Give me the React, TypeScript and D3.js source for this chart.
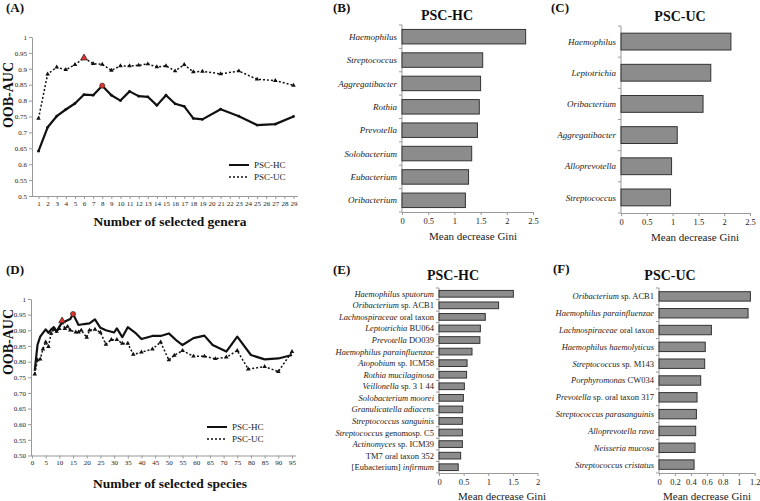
import React, { useEffect, useRef } from "react";
import * as d3 from "d3";

const FONT = "'Liberation Serif', 'Times New Roman', serif";

// (A) genera
const generaTicks = [1, 2, 3, 4, 5, 6, 7, 8, 9, 10, 11, 12, 13, 14, 15, 16, 17, 18, 19, 20, 21, 22, 23, 24, 25, 26, 27, 28, 29];
const generaX = [1, 2, 3, 4, 5, 6, 7, 8, 9, 10, 11, 12, 13, 14, 15, 16, 17, 18, 19, 21, 23, 25, 27, 29];
const generaHC = [0.641, 0.716, 0.751, 0.772, 0.791, 0.819, 0.817, 0.847, 0.817, 0.8, 0.829, 0.814, 0.812, 0.785, 0.817, 0.79, 0.782, 0.744, 0.741, 0.773, 0.751, 0.723, 0.726, 0.75];
const generaUC = [0.744, 0.883, 0.905, 0.897, 0.913, 0.934, 0.916, 0.914, 0.895, 0.909, 0.909, 0.911, 0.915, 0.906, 0.909, 0.893, 0.913, 0.89, 0.892, 0.884, 0.893, 0.867, 0.863, 0.848];

// (D) species
const speciesTicks = [0, 5, 10, 15, 20, 25, 30, 35, 40, 45, 50, 55, 60, 65, 70, 75, 80, 85, 90, 95];
const speciesHCx = [1, 2, 3, 5, 6, 7, 8, 9, 10, 11, 12, 14, 15, 17, 19, 21, 23, 25, 27, 30, 31, 33, 35, 38, 40, 44, 47, 50, 53, 55, 59, 63, 66, 71, 75, 80, 85, 90, 95];
const speciesHC = [0.77, 0.853, 0.88, 0.903, 0.892, 0.903, 0.91, 0.896, 0.912, 0.925, 0.928, 0.936, 0.952, 0.917, 0.92, 0.922, 0.935, 0.908, 0.9, 0.893, 0.906, 0.878, 0.91, 0.89, 0.872, 0.882, 0.882, 0.89, 0.866, 0.853, 0.875, 0.883, 0.853, 0.832, 0.88, 0.821, 0.807, 0.81, 0.821];
const speciesUCx = [1, 2, 3, 4, 5, 6, 7, 8, 9, 10, 11, 12, 13, 14, 16, 17, 18, 20, 21, 23, 25, 27, 29, 31, 33, 35, 37, 40, 44, 47, 50, 52, 55, 59, 63, 67, 71, 75, 79, 85, 90, 95];
const speciesUC = [0.76, 0.805, 0.808, 0.84, 0.862, 0.848, 0.89, 0.903, 0.896, 0.905, 0.93, 0.905, 0.912, 0.9, 0.894, 0.894, 0.9, 0.877, 0.9, 0.903, 0.893, 0.855, 0.87, 0.87, 0.858, 0.858, 0.823, 0.83, 0.84, 0.862, 0.805, 0.82, 0.835, 0.817, 0.817, 0.809, 0.814, 0.835, 0.776, 0.784, 0.768, 0.832];

// (B) genera PSC-HC
const bNames = ["*Haemophilus*", "*Streptococcus*", "*Aggregatibacter*", "*Rothia*", "*Prevotella*", "*Solobacterium*", "*Eubacterium*", "*Oribacterium*"];
const bValues = [2.36, 1.54, 1.5, 1.475, 1.44, 1.33, 1.27, 1.21];
// (C) genera PSC-UC
const cNames = ["*Haemophilus*", "*Leptotrichia*", "*Oribacterium*", "*Aggregatibacter*", "*Alloprevotella*", "*Streptococcus*"];
const cValues = [2.13, 1.74, 1.59, 1.09, 0.98, 0.96];
// (E) species PSC-HC
const eNames = [
  "*Haemophilus sputorum*", "*Oribacterium* sp. ACB1", "*Lachnospiraceae* oral taxon", "*Leptotrichia* BU064",
  "*Prevotella* DO039", "*Haemophilus parainfluenzae*", "*Atopobium* sp. ICM58", "*Rothia mucilaginosa*",
  "*Veillonella* sp. 3 1 44", "*Solobacterium moorei*", "*Granulicatella adiacens*", "*Streptococcus sanguinis*",
  "*Streptococcus* genomosp. C5", "*Actinomyces* sp. ICM39", "TM7 oral taxon 352", "[Eubacterium] *infirmum*",
];
const eValues = [1.51, 1.21, 0.94, 0.84, 0.83, 0.67, 0.57, 0.56, 0.515, 0.495, 0.48, 0.475, 0.475, 0.475, 0.44, 0.39];
// (F) species PSC-UC
const fNames = [
  "*Oribacterium* sp. ACB1", "*Haemophilus parainfluenzae*", "*Lachnospiraceae* oral taxon", "*Haemophilus haemolyticus*",
  "*Streptococcus* sp. M143", "*Porphyromonas* CW034", "*Prevotella* sp. oral taxon 317", "*Streptococcus parasanguinis*",
  "*Alloprevotella rava*", "*Neisseria mucosa*", "*Streptococcus cristatus*",
];
const fValues = [1.146, 1.117, 0.657, 0.58, 0.573, 0.523, 0.477, 0.469, 0.46, 0.452, 0.44];

const styleAxis = (g, size = 7) => {
  g.attr("font-family", FONT).attr("font-size", size);
  g.select(".domain").attr("stroke", "#999");
  g.selectAll(".tick line").attr("stroke", "#999");
  g.selectAll(".tick text").attr("fill", "#222").attr("font-size", size).attr("font-family", FONT);
};

const drawLinePanel = (svg, cfg) => {
  const { x, y, left, right, bottom, xTicks, yFmt, hcX, hc, ucX, uc, redHC, redUC, hcDots } = cfg;

  const gx = svg.append("g").attr("transform", `translate(0,${bottom})`)
    .call(d3.axisBottom(x).tickValues(xTicks).tickSize(3).tickPadding(2).tickSizeOuter(0));
  gx.select(".domain").attr("d", `M${left},0.5H${right}`);
  styleAxis(gx);

  const gy = svg.append("g").attr("transform", `translate(${left},0)`)
    .call(d3.axisLeft(y).ticks(10).tickFormat(yFmt).tickSize(3).tickPadding(2).tickSizeOuter(0));
  styleAxis(gy);

  const lineHC = d3.line<number>().x((d, i) => x(hcX[i])).y((d) => y(d));
  const lineUC = d3.line<number>().x((d, i) => x(ucX[i])).y((d) => y(d));

  svg.append("path").attr("d", lineUC(uc)).attr("fill", "none").attr("stroke", "#111")
    .attr("stroke-width", 1.5).attr("stroke-dasharray", "2,2");
  svg.append("path").attr("d", lineHC(hc)).attr("fill", "none").attr("stroke", "#111")
    .attr("stroke-width", 2.2).attr("stroke-linejoin", "round");

  const tri = d3.symbol().type(d3.symbolTriangle).size(9);
  svg.append("g").selectAll("path").data(uc).enter().append("path")
    .attr("d", tri).attr("fill", "#111")
    .attr("transform", (d, i) => `translate(${x(ucX[i])},${y(d)})`);

  if (hcDots) {
    svg.append("g").selectAll("circle").data(hc).enter().append("circle")
      .attr("cx", (d, i) => x(hcX[i])).attr("cy", (d) => y(d)).attr("r", 1.4).attr("fill", "#111");
  }

  // best models in red
  const bigTri = d3.symbol().type(d3.symbolTriangle).size(20);
  svg.append("path").attr("d", bigTri).attr("fill", "#e8312a").attr("stroke", "#222").attr("stroke-width", 0.7)
    .attr("transform", `translate(${x(ucX[redUC])},${y(uc[redUC])})`);
  svg.append("circle").attr("cx", x(hcX[redHC])).attr("cy", y(hc[redHC])).attr("r", 2.5)
    .attr("fill", "#e8312a").attr("stroke", "#222").attr("stroke-width", 0.7);

  // legend
  const { lx, ly } = cfg;
  [["PSC-HC", null, 2], ["PSC-UC", "2,2", 1.5]].forEach(([lab, dash, sw], i) => {
    svg.append("line").attr("x1", lx).attr("x2", lx + 20).attr("y1", ly + i * 12).attr("y2", ly + i * 12)
      .attr("stroke", "#111").attr("stroke-width", sw).attr("stroke-dasharray", dash);
    svg.append("text").attr("x", lx + 25).attr("y", ly + i * 12 + 3).attr("font-size", 9)
      .attr("font-family", FONT).attr("fill", "#222").text(lab);
  });

  svg.append("text").attr("transform", `translate(13,${cfg.yTitleY}) rotate(-90)`)
    .attr("text-anchor", "middle").attr("font-size", 14).attr("font-weight", "bold")
    .attr("font-family", FONT).attr("fill", "#111").text("OOB-AUC");
  svg.append("text").attr("x", 170).attr("y", cfg.xTitleY).attr("text-anchor", "middle")
    .attr("font-size", 13.5).attr("font-weight", "bold").attr("font-family", FONT).attr("fill", "#111")
    .text(cfg.xTitle);
};

const addLabel = (text, s) => {
  s.split("*").forEach((part, i) => {
    if (!part) return;
    text.append("tspan").attr("font-style", i % 2 === 1 ? "italic" : "normal").text(part);
  });
};

const drawBarPanel = (svg, cfg) => {
  const { names, values, x0, x1, max, ticks, top, bottom, pad, labelSize, title, titleX, titleY, glX, glY } = cfg;
  const y = d3.scaleBand().domain(names).range([top, bottom]).paddingInner(pad).paddingOuter(pad / 2);
  const x = d3.scaleLinear().domain([0, max]).range([x0, x1]);

  svg.append("line").attr("x1", x0).attr("x2", x0).attr("y1", top).attr("y2", bottom).attr("stroke", "#999");
  const step = (bottom - top) / names.length;
  names.concat([""]).forEach((n, i) => {
    svg.append("line").attr("x1", x0 - 3).attr("x2", x0).attr("y1", top + i * step).attr("y2", top + i * step)
      .attr("stroke", "#999");
  });

  const gx = svg.append("g").attr("transform", `translate(0,${bottom})`)
    .call(d3.axisBottom(x).tickValues(ticks).tickFormat(d3.format("~g")).tickSize(3).tickPadding(3).tickSizeOuter(0));
  styleAxis(gx, 8.5);

  svg.append("g").selectAll("rect").data(values).enter().append("rect")
    .attr("x", x0).attr("y", (d, i) => y(names[i])).attr("width", (d) => x(d) - x0)
    .attr("height", y.bandwidth()).attr("fill", "#8c8c8c").attr("stroke", "#333").attr("stroke-width", 1);

  names.forEach((n) => {
    const t = svg.append("text").attr("x", x0 - 5).attr("y", y(n) + y.bandwidth() / 2).attr("dy", "0.35em")
      .attr("text-anchor", "end").attr("font-size", labelSize).attr("font-family", FONT).attr("fill", "#222");
    addLabel(t, n);
  });

  svg.append("text").attr("x", titleX).attr("y", titleY).attr("text-anchor", "middle").attr("font-size", 14)
    .attr("font-weight", "bold").attr("font-family", FONT).attr("fill", "#111").text(title);
  svg.append("text").attr("x", glX).attr("y", glY).attr("text-anchor", "middle").attr("font-size", 11)
    .attr("font-family", FONT).attr("fill", "#222").text("Mean decrease Gini");
};

const App = () => {
  const ref = useRef<SVGSVGElement>(null);

  useEffect(() => {
    const svg = d3.select(ref.current);
    svg.selectAll("*").remove();

    // panel letters
    [["(A)", 6, 12], ["(B)", 333, 12], ["(C)", 551, 12], ["(D)", 6, 274], ["(E)", 333, 274], ["(F)", 553, 273]].forEach(([t, px, py]) => {
      svg.append("text").attr("x", px).attr("y", py).attr("font-size", 13).attr("font-weight", "bold")
        .attr("font-family", FONT).attr("fill", "#111").text(t);
    });

    // (A)
    drawLinePanel(svg, {
      x: d3.scalePoint<number>().domain(generaTicks).range([38.5, 293.5]),
      y: d3.scaleLinear().domain([0.5, 1]).range([196, 37]),
      left: 32, right: 298, bottom: 196,
      xTicks: generaTicks,
      yFmt: (d) => String(+(+d).toFixed(2)),
      hcX: generaX, hc: generaHC, ucX: generaX, uc: generaUC,
      redHC: 7, redUC: 5, hcDots: true,
      lx: 229, ly: 165, yTitleY: 95, xTitleY: 226, xTitle: "Number of selected genera",
    });

    // (D)
    drawLinePanel(svg, {
      x: d3.scaleLinear().domain([0, 95]).range([32, 292]),
      y: d3.scaleLinear().domain([0.5, 1]).range([455.5, 299]),
      left: 31, right: 296, bottom: 455.5,
      xTicks: speciesTicks,
      yFmt: (d) => (d === 1 ? "1" : d3.format(".2f")(d)),
      hcX: speciesHCx, hc: speciesHC, ucX: speciesUCx, uc: speciesUC,
      redHC: 12, redUC: 10, hcDots: false,
      lx: 207, ly: 427, yTitleY: 342, xTitleY: 488, xTitle: "Number of selected species",
    });

    drawBarPanel(svg, {
      names: bNames, values: bValues, x0: 402, x1: 533, max: 2.5, ticks: [0, 0.5, 1, 1.5, 2, 2.5],
      top: 25, bottom: 212, pad: 0.38, labelSize: 9, title: "PSC-HC", titleX: 447, titleY: 20, glX: 473, glY: 240,
    });
    drawBarPanel(svg, {
      names: cNames, values: cValues, x0: 621, x1: 750, max: 2.5, ticks: [0, 0.5, 1, 1.5, 2, 2.5],
      top: 26, bottom: 213, pad: 0.46, labelSize: 9, title: "PSC-UC", titleX: 680, titleY: 21, glX: 695, glY: 241,
    });
    drawBarPanel(svg, {
      names: eNames, values: eValues, x0: 439, x1: 537.5, max: 2, ticks: [0, 0.5, 1, 1.5, 2],
      top: 288, bottom: 473, pad: 0.42, labelSize: 8.5, title: "PSC-HC", titleX: 453, titleY: 280, glX: 502, glY: 500,
    });
    drawBarPanel(svg, {
      names: fNames, values: fValues, x0: 659, x1: 754.7, max: 1.2, ticks: [0, 0.2, 0.4, 0.6, 0.8, 1, 1.2],
      top: 288, bottom: 473, pad: 0.44, labelSize: 8.5, title: "PSC-UC", titleX: 670, titleY: 280, glX: 707, glY: 500,
    });
  }, []);

  return (
    <svg ref={ref} width={760} height={501}
      style={{ position: "absolute", left: 0, top: 0, background: "#fff" }} />
  );
};

export default App;
